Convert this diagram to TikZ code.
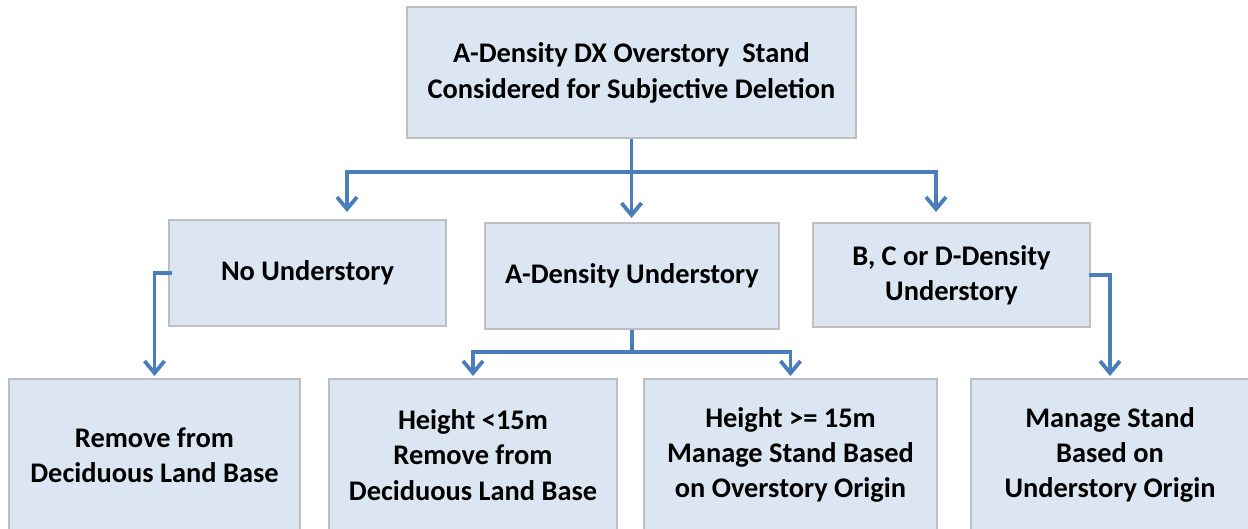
\documentclass[tikz,border=0pt]{standalone}
\usepackage{fontspec}
\setmainfont{Carlito}
\usetikzlibrary{arrows.meta}
\definecolor{boxfill}{HTML}{DCE6F2}
\definecolor{boxline}{HTML}{BFBFBF}
\definecolor{arrowblue}{HTML}{4A7EBB}
\tikzset{
  box/.style={draw=boxline, line width=1pt, fill=boxfill, align=center, inner sep=0pt,
    font=\fontsize{14.2}{17.6}\selectfont\bfseries},
  arr/.style={draw=arrowblue, line width=1.9pt, -{Straight Barb[length=6pt,width=10pt]}}
}
\begin{document}
\begin{tikzpicture}[x=0.5pt, y=-0.5pt]
                    \useasboundingbox (0, 0) rectangle (1248, 529);
                    \node[box, minimum width=224.5pt, minimum height=65.5pt] (stand) at (631.5, 73) {A-Density DX Overstory~~Stand\\Considered for Subjective Deletion};
                    \node[box, minimum width=138.5pt, minimum height=53pt] (none) at (307.5, 273) {No Understory};
                    \node[box, minimum width=147pt, minimum height=53pt] (adens) at (632, 276) {A-Density Understory};
                    \node[box, minimum width=138.5pt, minimum height=52pt] (bcd) at (951.5, 275) {B, C or D-Density\\Understory};
                    \node[box, minimum width=145.5pt, minimum height=76pt] (remove) at (154.5, 455) {Remove from\\Deciduous Land Base};
                    \node[box, minimum width=144pt, minimum height=76pt] (low) at (473, 455) {Height {<}15m\\Remove from\\Deciduous Land Base};
                    \node[box, minimum width=146.5pt, minimum height=76pt] (high) at (790.5, 455) {Height {>}= 15m\\Manage Stand Based\\on Overstory Origin};
                    \node[box, minimum width=139pt, minimum height=76pt] (manage) at (1110, 455) {Manage Stand\\Based on\\Understory Origin};
                    \coordinate (bus) at (631.5, 172);
                    \coordinate (nl) at (347, 212);
                    \coordinate (nr) at (936, 212);
                    \coordinate (mbus) at (632, 352);
                    \draw[arr] (stand.south) -- ([yshift=2pt]stand.south |- adens.north);
                    \draw[arr] (bus) -| (nl);
                    \draw[arr] (bus) -| (nr);
                    \draw[arr] ([xshift=2pt]none.west) -| ([yshift=1pt]remove.north);
                    \draw[arr] ([xshift=-1pt]bcd.east) -| ([yshift=1pt]manage.north);
                    \draw[arr, -] (adens.south) -- (mbus);
                    \draw[arr] (mbus) -| ([yshift=1pt]low.north);
                    \draw[arr] (mbus) -| ([yshift=1pt]high.north);
                \end{tikzpicture}
\end{document}
